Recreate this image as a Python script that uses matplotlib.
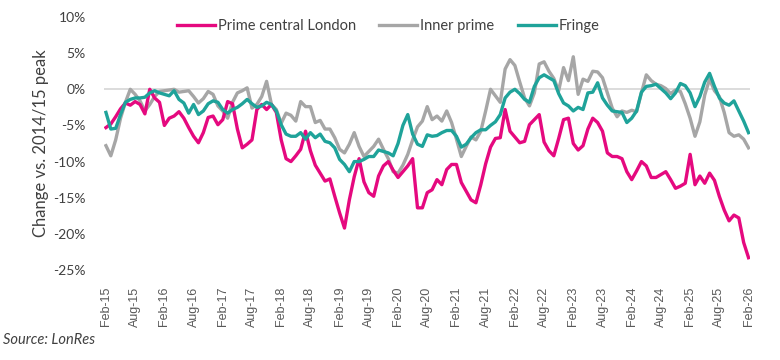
import numpy as np
import matplotlib
matplotlib.use("Agg")
import matplotlib.pyplot as plt

# monthly, Feb-15 .. Feb-26
pcl = [-5.3, -4.8, -3.8, -2.7, -1.9, -2.2, -1.7, -2.1, -3.4, 0.0,
       -1.2, -1.8, -5.0, -4.0, -3.7, -3.1, -4.0, -5.3, -6.5, -7.4,
       -6.0, -3.9, -3.7, -4.9, -4.2, -1.7, -2.0, -5.5, -8.1, -7.6,
       -7.0, -2.8, -2.1, -2.8, -2.1, -3.2, -7.0, -9.6, -10.0, -9.2,
       -8.3, -5.8, -8.5, -10.5, -11.6, -12.7, -12.4, -14.8, -17.1, -19.2,
       -15.3, -12.1, -9.6, -12.8, -14.3, -14.8, -12.0, -10.6, -10.0, -11.2,
       -12.2, -11.4, -10.6, -9.6, -16.4, -16.4, -14.3, -13.9, -12.5, -13.2,
       -11.1, -10.4, -10.4, -12.9, -14.1, -15.3, -15.7, -13.2, -10.3, -8.0,
       -6.8, -6.7, -2.8, -5.8, -6.6, -7.4, -7.2, -4.9, -4.2, -3.5,
       -7.3, -8.5, -9.2, -6.8, -4.2, -4.0, -7.5, -8.4, -7.8, -5.5,
       -4.0, -4.6, -5.8, -8.8, -9.3, -9.3, -9.6, -11.4, -12.5, -11.3,
       -10.0, -10.6, -12.2, -12.2, -11.8, -11.4, -12.5, -13.7, -13.4, -13.0,
       -9.0, -13.2, -12.0, -13.0, -11.6, -12.6, -14.8, -16.7, -18.2, -17.4,
       -17.8, -21.2, -23.3]

inner = [-7.8, -9.2, -7.0, -4.0, -1.8, 0.0, -0.7, -1.6, -3.0, -2.1,
         -1.0, -0.3, -0.2, -0.1, 0.0, -0.4, -0.3, -0.2, -1.0, -1.9,
         -1.3, -0.3, -0.7, -2.3, -3.0, -4.0, -1.8, -0.5, -0.2, 0.2,
         -2.6, -2.1, -1.0, 1.1, -2.1, -2.8, -4.7, -3.3, -3.6, -4.4,
         -1.7, -2.4, -2.4, -4.6, -4.3, -5.5, -5.5, -6.7, -8.3, -8.8,
         -7.6, -6.0, -7.9, -9.3, -8.6, -7.9, -6.9, -8.3, -9.6, -11.4,
         -11.6, -10.5, -9.0, -7.0, -5.2, -4.4, -2.4, -4.2, -3.7, -4.4,
         -3.0, -4.6, -6.9, -9.3, -7.9, -6.6, -7.0, -5.8, -3.0, 0.0,
         -0.9, -1.8, 2.8, 4.1, 3.3, 1.0, -1.2, -2.3, -0.5, 3.5,
         3.8, 2.5, 1.5, -0.2, 3.0, 1.2, 4.5, -0.7, 1.4, 1.1,
         2.5, 2.4, 1.6, -0.5, -2.6, -3.8, -3.0, -3.2, -2.9, -3.1,
         -0.5, 2.0, 1.2, 0.7, 0.5, 0.1, -0.6, -0.1, -0.3, -2.0,
         -4.0, -6.5, -4.5, -0.8, 1.4, -0.2, -1.0, -3.2, -6.0, -6.5,
         -6.3, -6.9, -8.1]

fringe = [-3.2, -5.5, -5.4, -3.5, -1.8, -1.4, -1.2, -1.2, -1.1, -0.5,
          -0.2, -0.5, -0.7, -0.9, -0.2, -1.4, -1.9, -3.3, -2.1, -3.5,
          -3.0, -2.0, -1.6, -1.8, -2.8, -3.3, -2.8, -2.5, -2.0, -1.4,
          -2.0, -2.5, -2.3, -1.8, -2.1, -3.0, -4.9, -6.2, -6.5, -6.5,
          -6.0, -6.9, -6.0, -6.7, -6.2, -7.2, -7.4, -8.1, -9.7, -10.4,
          -11.4, -10.0, -10.0, -9.7, -9.3, -9.3, -8.4, -8.6, -8.8, -9.2,
          -7.5, -5.0, -3.5, -6.2, -7.6, -7.9, -6.3, -6.5, -6.4, -6.0,
          -5.7, -5.7, -6.5, -8.0, -7.6, -6.7, -6.0, -5.6, -5.6, -5.0,
          -4.5, -3.5, -1.2, -0.4, 0.0, -0.6, -1.4, -1.8, 0.4, 1.6,
          2.0, 1.6, 1.2, -0.6, -1.9, -2.3, -3.0, -2.5, -2.8, -0.5,
          -0.4, 0.9, -1.2, -2.2, -3.0, -3.1, -3.2, -4.6, -4.0, -3.0,
          -0.4, 0.4, 0.5, 0.7, 0.1, -0.5, -1.3, -0.5, 0.8, 0.5,
          -0.5, -2.4, -1.0, 1.0, 2.2, 0.4, -1.2, -1.9, -2.2, -1.6,
          -3.0, -4.4, -6.0]

tick_labels = ["Feb-15", "Aug-15", "Feb-16", "Aug-16", "Feb-17", "Aug-17",
               "Feb-18", "Aug-18", "Feb-19", "Aug-19", "Feb-20", "Aug-20",
               "Feb-21", "Aug-21", "Feb-22", "Aug-22", "Feb-23", "Aug-23",
               "Feb-24", "Aug-24", "Feb-25", "Aug-25", "Feb-26"]
y_ticks = [10, 5, 0, -5, -10, -15, -20, -25]

x = np.arange(len(pcl))

fig = plt.figure(figsize=(7.8, 3.6), dpi=100)
ax = fig.add_axes([104/780, 1-270/360, 646/780, 253/360])

ax.axhline(0, color="#d9d9d9", lw=1.3, zorder=1)
ax.plot(x, pcl, color="#e5097f", lw=2.4, label="Prime central London", zorder=3)
ax.plot(x, inner, color="#a6a6a6", lw=2.4, label="Inner prime", zorder=2)
ax.plot(x, fringe, color="#1fa39a", lw=2.4, label="Fringe", zorder=4)

ax.set_xlim(-0.4, 132.3)
ax.set_ylim(-25, 10)
ax.set_yticks(y_ticks)
ax.set_yticklabels([f"{v}%" for v in y_ticks], fontfamily="Lato", fontsize=10, color="#404040")
ax.set_xticks(np.arange(0, len(pcl), 6))
ax.set_xticklabels(tick_labels, rotation=90, fontfamily="Liberation Sans", fontsize=9, color="#595959")
ax.tick_params(length=0)
ax.tick_params(axis="y", pad=13)
ax.tick_params(axis="x", pad=12)
for s in ax.spines.values():
    s.set_visible(False)

ax.set_ylabel("Change vs. 2014/15 peak", fontfamily="Lato", fontsize=12, color="#404040", labelpad=3)

leg = ax.legend(loc="center", bbox_to_anchor=(0.44, 0.965), ncol=3, frameon=False,
                prop={"family": "Lato", "size": 10.5}, handlelength=2.6, handletextpad=0.2,
                columnspacing=1.6)
for t in leg.get_texts():
    t.set_color("#404040")

fig.text(3/780, 1-340/360, "Source: LonRes", fontfamily="Lato", fontstyle="italic",
         fontsize=10.5, color="#404040", va="center")

fig.savefig("out.png")
